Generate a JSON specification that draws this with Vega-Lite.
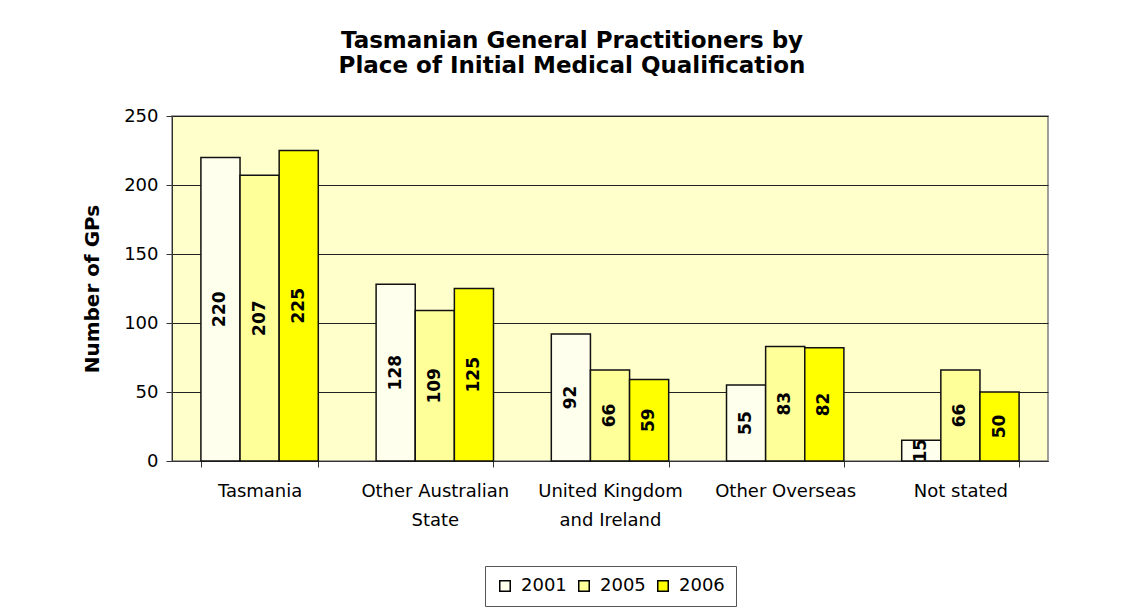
{
  "$schema": "https://vega.github.io/schema/vega-lite/v6.json",
  "autosize": "none",
  "width": 876,
  "height": 345,
  "padding": {"left": 172, "top": 116, "right": 85, "bottom": 153},
  "background": "white",
  "title": {
    "text": ["Tasmanian General Practitioners by", "Place of Initial Medical Qualification"],
    "font": "DejaVu Sans",
    "fontSize": 23,
    "fontWeight": "bold",
    "color": "black",
    "lineHeight": 25,
    "offset": 29,
    "dx": -38,
    "anchor": "middle"
  },
  "data": {
    "values": [
      {"place": "Tasmania", "year": "2001", "value": 220},
      {"place": "Tasmania", "year": "2005", "value": 207},
      {"place": "Tasmania", "year": "2006", "value": 225},
      {"place": "Other Australian|State", "year": "2001", "value": 128},
      {"place": "Other Australian|State", "year": "2005", "value": 109},
      {"place": "Other Australian|State", "year": "2006", "value": 125},
      {"place": "United Kingdom|and Ireland", "year": "2001", "value": 92},
      {"place": "United Kingdom|and Ireland", "year": "2005", "value": 66},
      {"place": "United Kingdom|and Ireland", "year": "2006", "value": 59},
      {"place": "Other Overseas", "year": "2001", "value": 55},
      {"place": "Other Overseas", "year": "2005", "value": 83},
      {"place": "Other Overseas", "year": "2006", "value": 82},
      {"place": "Not stated", "year": "2001", "value": 15},
      {"place": "Not stated", "year": "2005", "value": 66},
      {"place": "Not stated", "year": "2006", "value": 50}
    ]
  },
  "encoding": {
    "x": {
      "field": "place",
      "type": "nominal",
      "sort": null,
      "scale": {"paddingInner": 0.33, "paddingOuter": 0.165},
      "axis": {
        "title": null,
        "labelAngle": 0,
        "labelExpr": "split(datum.label, '|')",
        "labelFont": "DejaVu Sans",
        "labelFontSize": 18,
        "labelColor": "black",
        "labelLineHeight": 29,
        "labelPadding": 15,
        "tickBand": "extent",
        "tickSize": 6,
        "tickColor": "#333333",
        "domainColor": "#333333",
        "grid": false
      }
    },
    "xOffset": {"field": "year", "type": "nominal", "sort": ["2001", "2005", "2006"], "scale": {"paddingInner": 0, "paddingOuter": 0}}
  },
  "layer": [
    {
      "mark": {"type": "bar", "stroke": "#111111", "strokeWidth": 1.5},
      "encoding": {
        "y": {
          "field": "value",
          "type": "quantitative",
          "scale": {"domain": [0, 250]},
          "axis": {
            "title": "Number of GPs",
            "titleFont": "DejaVu Sans",
            "titleFontSize": 20,
            "titleFontWeight": "bold",
            "titleColor": "black",
            "titlePadding": 21,
            "values": [0, 50, 100, 150, 200, 250],
            "labelFont": "DejaVu Sans",
            "labelFontSize": 18,
            "labelColor": "black",
            "labelPadding": 8,
            "tickSize": 6,
            "tickColor": "#333333",
            "domainColor": "#333333",
            "grid": true,
            "gridColor": "#222222",
            "gridWidth": 1
          }
        },
        "fill": {
          "field": "year",
          "type": "nominal",
          "scale": {"domain": ["2001", "2005", "2006"], "range": ["#FFFFEE", "#FFFF99", "#FFFF00"]},
          "legend": {
            "title": null,
            "orient": "bottom",
            "direction": "horizontal",
            "offset": 37,
            "strokeColor": "#555555",
            "padding": 11,
            "symbolType": "square",
            "symbolSize": 110,
            "symbolStrokeColor": "black",
            "symbolStrokeWidth": 1.5,
            "labelFont": "DejaVu Sans",
            "labelFontSize": 18,
            "labelColor": "black",
            "labelOffset": 7,
            "columnPadding": 8
          }
        }
      }
    },
    {
      "mark": {"type": "text", "angle": 270, "font": "DejaVu Sans", "fontSize": 17, "fontWeight": "bold", "color": "black", "baseline": "middle", "align": "center"},
      "encoding": {
        "y": {"field": "value", "type": "quantitative", "scale": {"domain": [0, 500]}, "axis": null},
        "text": {"field": "value", "type": "quantitative"}
      }
    }
  ],
  "resolve": {"scale": {"y": "independent"}},
  "config": {
    "view": {"fill": "#FFFFCC", "stroke": "#808080", "strokeWidth": 1.5},
    "legend": {"layout": {"bottom": {"anchor": "middle"}}}
  }
}
